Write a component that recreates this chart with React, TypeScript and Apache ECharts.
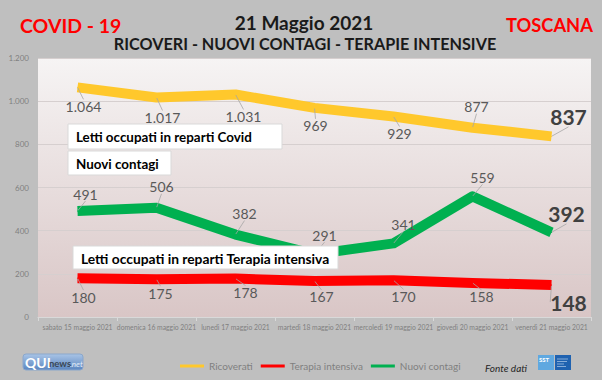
import React, { useEffect, useRef } from "react";
import * as echarts from "echarts";

const categories = [
  "sabato 15 maggio 2021",
  "domenica 16 maggio 2021",
  "lunedì 17 maggio 2021",
  "martedì 18 maggio 2021",
  "mercoledì 19 maggio 2021",
  "giovedì 20 maggio 2021",
  "venerdì 21 maggio 2021",
];
const ricoverati = [1064, 1017, 1031, 969, 929, 877, 837];
const terapiaIntensiva = [180, 175, 178, 167, 170, 158, 148];
const nuoviContagi = [491, 506, 382, 291, 341, 559, 392];
const yTicks = [0, 200, 400, 600, 800, 1000, 1200];

// label offsets (layout only)
const offRic = [[6, 19], [6, 20], [8, 22], [1, 18], [6, 17], [4, -21], [17, -20]];
const offNuovi = [[8, -17], [5, -21], [9, -21], [10, -19], [10, -19], [10, -19], [15, -19]];
const offTer = [[6, 19], [4, 14], [10, 14], [7, 16], [10, 16], [9, 14], [17, 17]];

const fmt = (v: number) => String(v).replace(/\B(?=(\d{3})+(?!\d))/g, ".");
const FONT = "Lato";

function makeSeries(name: string, values: number[], color: string, offs: number[][]) {
  const last = values.length - 1;
  return {
    name,
    type: "line",
    data: values.map((v, i) => ({
      value: v,
      label:
        i === last
          ? { fontSize: 21, fontWeight: "bold", color: "#404040" }
          : { fontSize: 14, color: "#595959" },
    })),
    symbol: "circle",
    symbolSize: 1,
    itemStyle: { color },
    lineStyle: { color, width: 10, cap: "butt", join: "round" },
    label: {
      show: true,
      position: "inside",
      fontFamily: FONT,
      formatter: (p: any) => fmt(p.value),
    },
    labelLayout: (p: any) => ({ dx: offs[p.dataIndex][0], dy: offs[p.dataIndex][1] }),
    labelLine: { show: true, lineStyle: { color: "#a6a6a6", width: 0.8 } },
    z: 3,
  };
}

function box(x: number, y: number, w: number, h: number, text: string, fs: number) {
  return {
    type: "group",
    x,
    y,
    z: 100,
    children: [
      { type: "rect", z: 100, shape: { x: 0, y: 0, width: w, height: h }, style: { fill: "#ffffff", stroke: "#d9d9d9", lineWidth: 1 } },
      {
        type: "text",
        z: 101,
        x: 8,
        y: h / 2 + 0.5,
        style: { text, fontFamily: FONT, fontWeight: "bold", fontSize: fs, fill: "#000000", textVerticalAlign: "middle" },
      },
    ],
  };
}

export default function App() {
  const ref = useRef<HTMLDivElement>(null);
  useEffect(() => {
    const chart = echarts.init(ref.current!, undefined, { renderer: "svg" });
    chart.setOption({
      animation: false,
      backgroundColor: "#bfbfbf",
      title: [
        { text: "COVID - 19", left: 20, top: 15, padding: 0, textStyle: { fontFamily: FONT, fontWeight: "bold", fontSize: 19.5, color: "#ff0000" } },
        { text: "21 Maggio 2021", left: 304, textAlign: "center", top: 13, padding: 0, textStyle: { fontFamily: FONT, fontWeight: "bold", fontSize: 19, color: "#1a1a1a" } },
        { text: "RICOVERI - NUOVI CONTAGI - TERAPIE INTENSIVE", left: 305, textAlign: "center", top: 35, padding: 0, textStyle: { fontFamily: FONT, fontWeight: "bold", fontSize: 16.2, color: "#1a1a1a" } },
        { text: "TOSCANA", left: 506, top: 16, padding: 0, textStyle: { fontFamily: FONT, fontWeight: "bold", fontSize: 18.3, color: "#ff0000" } },
      ],
      grid: {
        left: 38,
        right: 11,
        top: 58,
        bottom: 63,
        show: true,
        borderWidth: 0,
        backgroundColor: new echarts.graphic.LinearGradient(0, 0, 0, 1, [
          { offset: 0, color: "#f6f4f4" },
          { offset: 1, color: "#d9c6c6" },
        ]),
      },
      xAxis: {
        type: "category",
        data: categories,
        boundaryGap: true,
        axisLine: { lineStyle: { color: "#d9d9d9" } },
        axisTick: { show: true, length: 4, lineStyle: { color: "#d9d9d9" } },
        axisLabel: { interval: 0, fontSize: 6.8, color: "#7f7f7f", fontFamily: FONT, margin: 6 },
      },
      yAxis: {
        type: "value",
        min: yTicks[0],
        max: yTicks[yTicks.length - 1],
        interval: 200,
        axisLine: { show: false },
        axisTick: { show: false },
        axisLabel: { fontSize: 8, color: "#7f7f7f", fontFamily: FONT, margin: 9, formatter: (v: number) => fmt(v) },
        splitLine: { lineStyle: { color: "#d6cfcf", width: 1 } },
      },
      legend: {
        data: ["Ricoverati", "Terapia intensiva", "Nuovi contagi"],
        left: 180,
        top: 361,
        padding: 0,
        icon: "rect",
        itemWidth: 24,
        itemHeight: 3,
        itemGap: 8,
        textStyle: { fontFamily: FONT, fontSize: 10, color: "#7f7f7f" },
      },
      series: [
        makeSeries("Ricoverati", ricoverati, "#ffc82c", offRic),
        makeSeries("Terapia intensiva", terapiaIntensiva, "#ff0000", offTer),
        makeSeries("Nuovi contagi", nuoviContagi, "#00b050", offNuovi),
      ],
      graphic: [
        box(68, 124, 214, 25, "Letti occupati in reparti Covid", 13.4),
        box(68, 151, 103, 24, "Nuovi contagi", 13.4),
        box(73, 246, 265, 23, "Letti occupati in reparti Terapia intensiva", 13.8),
        {
          type: "text",
          x: 485,
          y: 368,
          style: { text: "Fonte dati", fontFamily: FONT, fontStyle: "italic", fontSize: 10, fill: "#262626", textVerticalAlign: "middle" },
        },
        {
          type: "group",
          x: 23,
          y: 354,
          children: [
            {
              type: "rect",
              shape: { x: 0, y: 0, width: 60, height: 16, r: 3 },
              style: {
                fill: new echarts.graphic.LinearGradient(0, 0, 0, 1, [
                  { offset: 0, color: "#a9c4e6" },
                  { offset: 1, color: "#5b86c0" },
                ]),
                stroke: "#8aa7cc",
              },
            },
            { type: "text", x: 2, y: 8.5, style: { text: "QUI", fontFamily: FONT, fontWeight: "bold", fontSize: 14, fill: "#ffffff", textVerticalAlign: "middle" } },
            { type: "text", x: 26, y: 9.5, style: { text: "news", fontFamily: FONT, fontWeight: "bold", fontSize: 9.5, fill: "#3a4656", textVerticalAlign: "middle" } },
            { type: "text", x: 47, y: 9.5, style: { text: ".net", fontFamily: FONT, fontStyle: "italic", fontSize: 8, fill: "#e8f0fa", textVerticalAlign: "middle" } },
          ],
        },
        {
          type: "group",
          x: 538,
          y: 355,
          children: [
            { type: "rect", shape: { x: 0, y: 0, width: 16, height: 15 }, style: { fill: "#5fa8e0" } },
            { type: "text", x: 1, y: 4, style: { text: "SST", fontFamily: FONT, fontWeight: "bold", fontSize: 6, fill: "#ffffff", textVerticalAlign: "middle" } },
            { type: "rect", shape: { x: 17, y: 0, width: 16, height: 15 }, style: { fill: "#1f62b0" } },
            { type: "line", shape: { x1: 19, y1: 4, x2: 30, y2: 4 }, style: { stroke: "#cfe0f4", lineWidth: 0.6 } },
            { type: "line", shape: { x1: 19, y1: 6.5, x2: 29, y2: 6.5 }, style: { stroke: "#cfe0f4", lineWidth: 0.6 } },
            { type: "line", shape: { x1: 19, y1: 9, x2: 26, y2: 9 }, style: { stroke: "#cfe0f4", lineWidth: 0.6 } },
            { type: "line", shape: { x1: 19, y1: 11.5, x2: 28, y2: 11.5 }, style: { stroke: "#cfe0f4", lineWidth: 0.6 } },
          ],
        },
      ],
    });
    return () => chart.dispose();
  }, []);
  return (
    <div
      ref={ref}
      style={{ position: "fixed", left: 0, top: 0, width: 602, height: 380 }}
    />
  );
}
